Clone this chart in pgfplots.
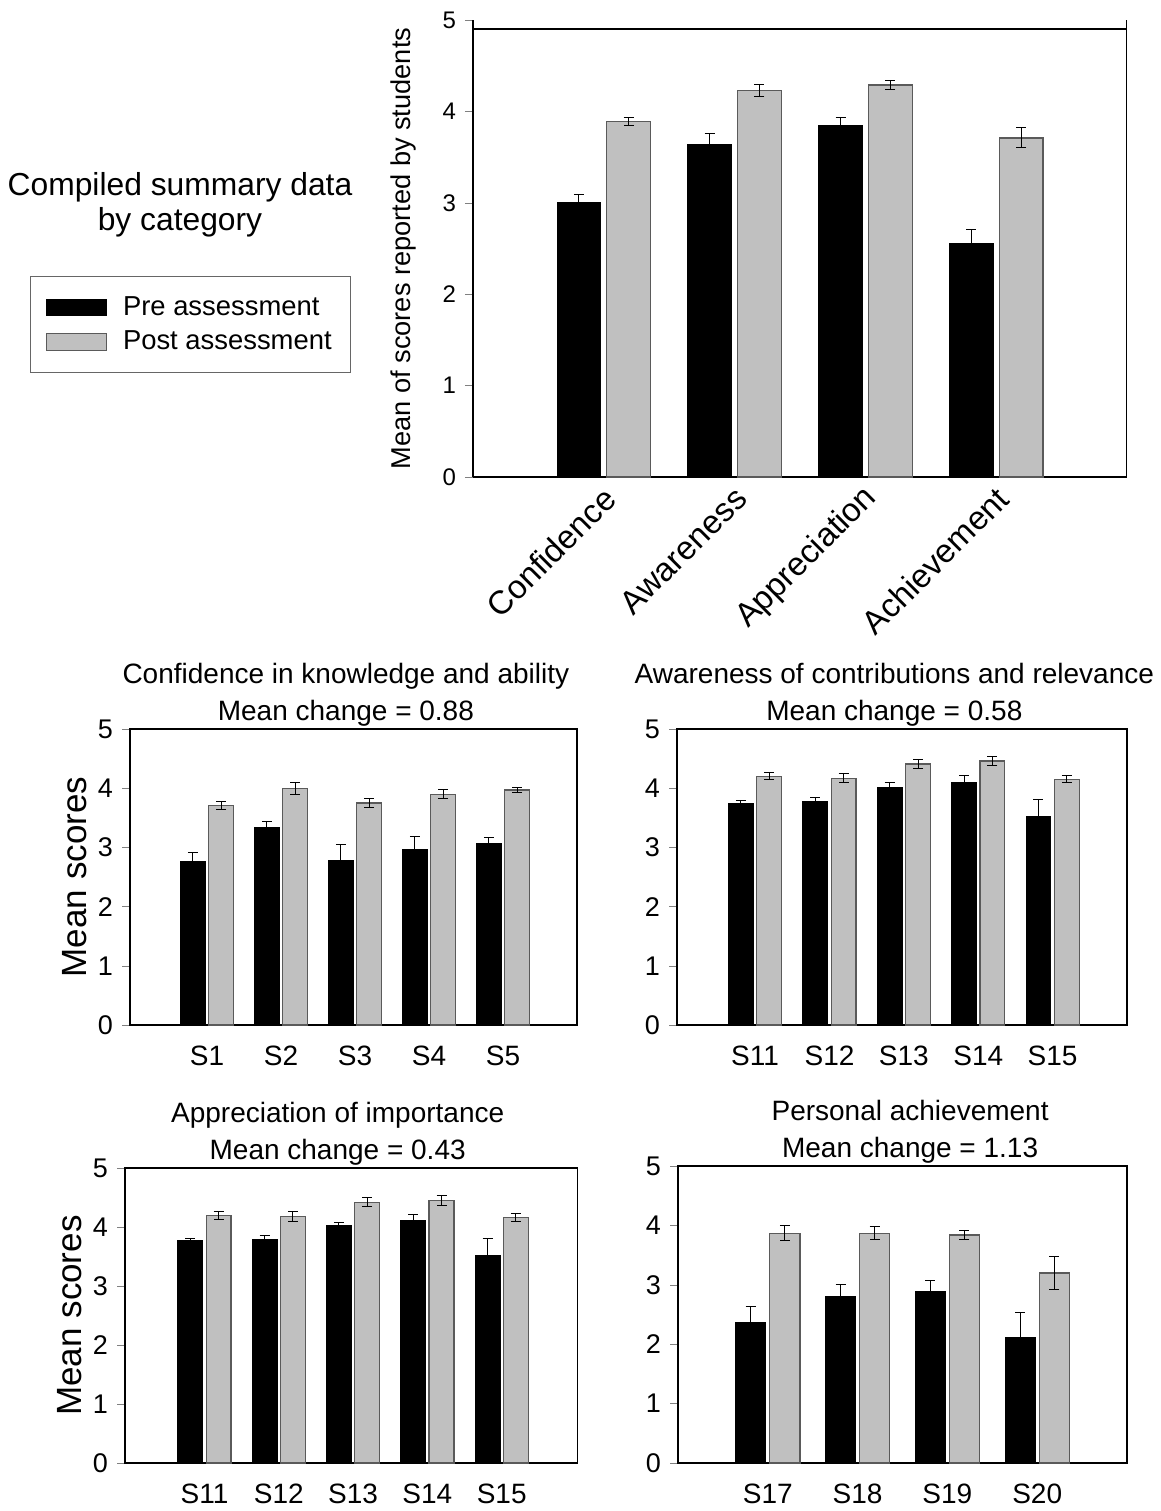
\documentclass[border=0pt]{standalone}
\usepackage{fontspec}
\setmainfont{Liberation Sans}
\usepackage{pgfplots}
\pgfplotsset{compat=1.18}
\definecolor{postgray}{RGB}{192,192,192}
\definecolor{edgegray}{RGB}{90,90,90}
\pgfplotsset{
  panel/.style={
    scale only axis,
    anchor=south west,
    ybar,
    ymin=0, ymax=5,
    ytick={0,1,2,3,4,5},
    ytick pos=left,
    tick align=outside,
    major tick length=4pt,
    xtick style={draw=none},
    axis line style={line width=0.7pt, black},
    /pgf/number format/assume math mode=true,
    yticklabel style={font=\fontsize{13.5}{15}\selectfont, xshift=-1pt},
    xticklabel style={font=\fontsize{14}{16}\selectfont, yshift=-3pt},
    title style={align=center, font=\fontsize{14}{18.5}\selectfont, anchor=south, inner sep=0pt, yshift=-4.8pt},
    ylabel style={font=\fontsize{17.5}{20}\selectfont},
  },
  prebar/.style={fill=black, draw=black, line width=0.5pt, bar width=0.335, bar shift=-0.19,
    error bars/.cd, y dir=both, y explicit,
    error bar style={line width=0.5pt, black},
    error mark options={rotate=90, mark size=2.5pt, line width=0.5pt, black}},
  postbar/.style={fill=postgray, draw=edgegray, line width=0.6pt, bar width=0.335, bar shift=0.19,
    error bars/.cd, y dir=both, y explicit,
    error bar style={line width=0.5pt, black},
    error mark options={rotate=90, mark size=2.5pt, line width=0.5pt, black}},
}
\begin{document}
\begin{tikzpicture}
\useasboundingbox (0pt,0pt) rectangle (580.5pt,-755.5pt);

\node[align=center, font=\fontsize{15.9}{17.5}\selectfont] at (90pt,-102.5pt) {Compiled summary data\\by category};

% ---------- top summary axis ----------
\begin{axis}[panel,
  at={(236.5pt,-238.5pt)},
  width=327pt, height=228.5pt,
  axis lines*=left,
  x axis line style={-}, y axis line style={-},
  xmin=-1, xmax=4,
  xtick={0,1,2,3},
  xticklabels={Confidence,Awareness,Appreciation,Achievement},
  xticklabel style={rotate=45, anchor=east, font=\fontsize{16.5}{18}\selectfont, xshift=5pt, yshift=-3pt},
  yticklabel style={font=\fontsize{12}{13}\selectfont},
  ylabel={Mean of scores reported by students},
  ylabel style={font=\fontsize{13.6}{15}\selectfont, at={(rel axis cs:-0.107,0.5)}, anchor=center},
  legend image code/.code={\draw[#1] (0pt,-4.2pt) rectangle (30pt,4.2pt);},
  legend style={at={(-0.677,0.44)}, anchor=north west, draw=black!60, line width=0.6pt,
    font=\fontsize{13.7}{16}\selectfont, inner xsep=7.5pt, inner ysep=8pt, row sep=2.2pt,
    /tikz/every odd column/.append style={column sep=6pt}},
  legend cell align=left,
]
\addplot[prebar] coordinates {(0,3.00)+-(0,0.09) (1,3.64)+-(0,0.12) (2,3.85)+-(0,0.08) (3,2.56)+-(0,0.15)};
\addlegendentry{Pre assessment}
\addplot[postbar] coordinates {(0,3.89)+-(0,0.045) (1,4.23)+-(0,0.065) (2,4.29)+-(0,0.045) (3,3.71)+-(0,0.11)};
\addlegendentry{Post assessment}
\draw[line width=0.7pt] (rel axis cs:1,0) -- (rel axis cs:1,1);
\draw[line width=0.7pt] (rel axis cs:0,0.98) -- (rel axis cs:1,0.98);
\end{axis}

% ---------- panel 1 ----------
\begin{axis}[panel,
  at={(65pt,-512.5pt)},
  width=223.5pt, height=148pt,
  xmin=-1.04, xmax=5,
  xtick={0,1,2,3,4},
  xticklabels={S1,S2,S3,S4,S5},
  title={Confidence in knowledge and ability\\Mean change = 0.88},
  title style={at={(0.483,1)}},
  ylabel={Mean scores},
  ylabel style={at={(rel axis cs:-0.123,0.5)}, anchor=center},
]
\addplot[prebar] coordinates {(0,2.77)+-(0,0.15) (1,3.33)+-(0,0.11) (2,2.78)+-(0,0.27) (3,2.97)+-(0,0.22) (4,3.06)+-(0,0.11)};
\addplot[postbar] coordinates {(0,3.71)+-(0,0.07) (1,4.00)+-(0,0.10) (2,3.75)+-(0,0.08) (3,3.90)+-(0,0.08) (4,3.97)+-(0,0.05)};
\end{axis}

% ---------- panel 2 ----------
\begin{axis}[panel,
  at={(338.5pt,-512.5pt)},
  width=225pt, height=148pt,
  xmin=-1.05, xmax=5,
  xtick={0,1,2,3,4},
  xticklabels={S11,S12,S13,S14,S15},
  title={Awareness of contributions and relevance\\Mean change = 0.58},
  title style={at={(0.483,1)}},
]
\addplot[prebar] coordinates {(0,3.75)+-(0,0.05) (1,3.78)+-(0,0.06) (2,4.02)+-(0,0.08) (3,4.10)+-(0,0.11) (4,3.52)+-(0,0.29)};
\addplot[postbar] coordinates {(0,4.20)+-(0,0.06) (1,4.17)+-(0,0.08) (2,4.41)+-(0,0.07) (3,4.46)+-(0,0.07) (4,4.15)+-(0,0.06)};
\end{axis}

% ---------- panel 3 ----------
\begin{axis}[panel,
  at={(62.5pt,-731.5pt)},
  width=226.25pt, height=147.5pt,
  xmin=-1.07, xmax=5.02,
  xtick={0,1,2,3,4},
  xticklabels={S11,S12,S13,S14,S15},
  title={Appreciation of importance\\Mean change = 0.43},
  title style={at={(0.47,1)}},
  ylabel={Mean scores},
  ylabel style={at={(rel axis cs:-0.122,0.5)}, anchor=center},
]
\addplot[prebar] coordinates {(0,3.77)+-(0,0.03) (1,3.79)+-(0,0.06) (2,4.03)+-(0,0.05) (3,4.11)+-(0,0.10) (4,3.52)+-(0,0.28)};
\addplot[postbar] coordinates {(0,4.19)+-(0,0.07) (1,4.18)+-(0,0.08) (2,4.42)+-(0,0.08) (3,4.45)+-(0,0.09) (4,4.16)+-(0,0.07)};
\end{axis}

% ---------- panel 4 ----------
\begin{axis}[panel,
  at={(339pt,-731.5pt)},
  width=224.5pt, height=148.5pt,
  xmin=-1, xmax=4,
  xtick={0,1,2,3},
  xticklabels={S17,S18,S19,S20},
  title={Personal achievement\\Mean change = 1.13},
  title style={at={(0.517,1)}},
]
\addplot[prebar] coordinates {(0,2.36)+-(0,0.27) (1,2.81)+-(0,0.20) (2,2.88)+-(0,0.20) (3,2.11)+-(0,0.42)};
\addplot[postbar] coordinates {(0,3.87)+-(0,0.13) (1,3.87)+-(0,0.11) (2,3.84)+-(0,0.07) (3,3.20)+-(0,0.28)};
\draw[line width=1.2pt] (rel axis cs:0,1) -- (rel axis cs:1,1);
\end{axis}
\end{tikzpicture}
\end{document}
